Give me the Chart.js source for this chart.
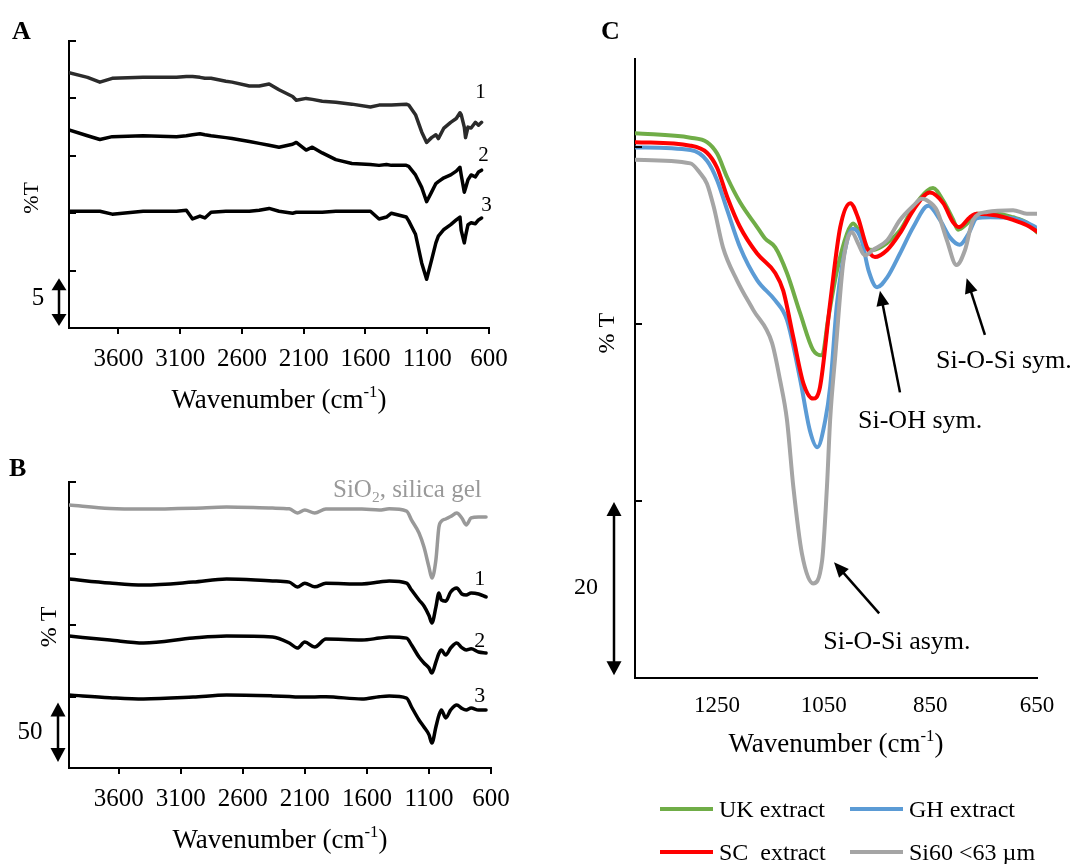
<!DOCTYPE html>
<html>
<head>
<meta charset="utf-8">
<title>FTIR spectra</title>
<script src="https://cdn.jsdelivr.net/npm/chart.js@4.4.1/dist/chart.umd.min.js"></script>
<style>
  body { margin: 0; background: #fff; }
  #page { position: relative; width: 1075px; height: 864px; overflow: hidden; font-family: "Liberation Serif", "Times New Roman", serif; color: #000; }
  #page canvas { position: absolute; }
  .panel { position: absolute; font-weight: bold; font-size: 26px; line-height: 26px; }
  .key { position: absolute; height: 4px; width: 53px; }
  .keyText { position: absolute; font-size: 24px; line-height: 24px; white-space: pre; }
</style>
</head>
<body>
<div id="page">
  <canvas id="chartA" width="540" height="430" style="left:0;top:0"></canvas>
  <canvas id="chartB" width="540" height="424" style="left:0;top:440px"></canvas>
  <canvas id="chartC" width="535" height="864" style="left:540px;top:0"></canvas>
  <div class="panel" style="left:12px;top:18px">A</div>
  <div class="panel" style="left:9px;top:455px">B</div>
  <div class="panel" style="left:601px;top:18px">C</div>
  <div id="legendC"></div>
</div>
<script>
// ---- panel A: wavenumber (cm-1) and %T of samples 1-3 ----
const aTicks = [3600, 3100, 2600, 2100, 1600, 1100, 600];
const aWave = [4000, 3850, 3750, 3650, 3400, 3130, 3050, 3000, 2940, 2900, 2850, 2730, 2680, 2540, 2460, 2380,
  2300, 2190, 2160, 2080, 2030, 1950, 1840, 1710, 1560, 1490, 1430, 1390, 1270, 1250, 1195, 1145,
  1105, 1065, 1030, 1010, 965, 910, 865, 835, 825, 800, 790, 770, 745, 710, 685, 660];
const aCurve1 = [26.7, 26.2, 25.7, 26.1, 26.2, 26.2, 26.3, 26.3, 26.2, 26.1, 26.1, 25.8, 25.7, 25.3, 25.3, 25.5,
  24.9, 24.2, 23.8, 24.0, 23.9, 23.7, 23.6, 23.4, 23.1, 23.3, 23.3, 23.3, 23.4, 23.3, 22.3, 20.5,
  19.4, 19.9, 20.2, 19.8, 20.9, 21.5, 21.9, 22.5, 22.3, 21.0, 19.9, 21.0, 20.9, 21.5, 21.2, 21.5];
const aCurve2 = [20.7, 20.1, 19.7, 20.0, 20.1, 20.0, 20.1, 20.2, 20.3, 20.2, 20.1, 19.9, 19.8, 19.5, 19.3, 19.1,
  18.9, 19.2, 19.4, 18.6, 18.9, 18.3, 17.6, 17.2, 17.1, 17.0, 17.1, 17.0, 17.0, 16.9, 16.0, 14.7,
  13.2, 14.2, 15.1, 15.3, 15.7, 16.0, 16.4, 16.8, 16.0, 14.2, 14.6, 15.5, 16.0, 15.8, 16.3, 16.5];
const aCurve3 = [12.2, 12.2, 12.2, 11.9, 12.2, 12.2, 12.3, 11.4, 11.7, 11.5, 12.1, 12.2, 12.2, 12.2, 12.3, 12.5,
  12.2, 12.0, 12.1, 12.1, 12.1, 12.1, 12.2, 12.2, 12.2, 11.4, 11.6, 12.0, 11.6, 11.2, 9.8, 6.8,
  5.1, 7.1, 8.9, 9.6, 10.3, 10.8, 11.3, 11.6, 10.2, 8.9, 9.6, 10.8, 11.0, 10.9, 11.3, 11.5];

// ---- panel B: silica gel reference and samples 1-3 ----
const bTicks = [3600, 3100, 2600, 2100, 1600, 1100, 600];
const bWave = [4000, 3670, 3400, 3000, 2730, 2360, 2225, 2160, 2100, 2020, 1930, 1640, 1500, 1420, 1280, 1240,
  1180, 1140, 1100, 1076, 1044, 1020, 1000, 965, 925, 876, 835, 800, 760, 700, 640];
const bSilica = [220.7, 217.8, 217.3, 218, 219, 218.1, 217.5, 214, 216.5, 214, 217.3, 217.3, 216.5, 217.5, 215.6, 208,
  197.2, 185.4, 168.6, 159.4, 174.5, 202, 207, 209, 211, 214, 209.8, 204, 209.8, 210.6, 210.6];
const bCurve1 = [158.6, 155.2, 153.5, 156, 158.6, 157, 156, 151.9, 155, 152, 155, 154.4, 156, 157, 155.2, 149.3,
  141, 136, 128, 121.7, 135, 146.8, 141, 140, 147.7, 151, 146, 145.1, 146.8, 146, 143.5];
const bCurve2 = [110.7, 107.4, 104.9, 109, 110.7, 110, 104.9, 100.7, 105.7, 101.5, 108.2, 107.4, 109, 110, 109, 103.2,
  93.1, 88.1, 84, 79.7, 88.9, 96, 99, 94.8, 100.7, 104.9, 101, 99, 100, 97.3, 96.5];
const bCurve3 = [61.2, 59, 57.9, 59.5, 61.2, 60.5, 60, 59.6, 59.6, 59.6, 59.8, 57.9, 59.8, 60.4, 58.7, 51.2,
  40.3, 34.4, 28, 21, 34.4, 44, 48.7, 42, 48.7, 52.9, 50, 48.7, 50.3, 48.7, 48.7];

// ---- panel C: extracts vs Si60 ----
const cTicks = [1250, 1050, 850, 650];
const ukWave = [1404, 1300, 1269, 1250, 1231, 1207, 1175, 1160, 1141, 1119, 1094, 1070, 1053, 1042, 1025, 1006, 995,
  982, 969, 958, 931, 907, 882, 856, 845, 826, 807, 798, 781, 763, 725, 695, 669, 650];
const ukT = [61.6, 61.1, 60.6, 59.3, 56.6, 53.8, 51.0, 49.7, 48.7, 45.8, 41.2, 37.1, 36.5, 40.5, 46.1, 50.3, 51.4,
  50.3, 48.6, 48.4, 49.2, 50.6, 53.2, 55.1, 55.4, 54.0, 51.8, 50.7, 51.4, 52.5, 52.5, 52.1, 51.5, 50.4];
const scWave = [1404, 1300, 1269, 1250, 1231, 1207, 1175, 1141, 1126, 1107, 1088, 1070, 1057, 1038, 1019, 1000,
  986, 969, 954, 931, 907, 882, 851, 826, 807, 796, 776, 763, 725, 695, 669, 650];
const scT = [60.6, 60.2, 59.4, 57.7, 54.4, 51.0, 48.0, 45.8, 43.8, 38.5, 33.3, 31.6, 32.9, 42.4, 51.0, 53.7,
  52.1, 48.7, 47.6, 48.4, 50.3, 52.9, 54.9, 53.7, 51.5, 51.0, 52.1, 52.5, 52.3, 51.8, 51.2, 50.5];
const ghWave = [1404, 1300, 1269, 1250, 1231, 1207, 1175, 1141, 1119, 1094, 1076, 1062, 1047, 1038, 1025, 1006,
  995, 979, 966, 950, 931, 907, 882, 854, 832, 813, 795, 778, 763, 738, 695, 669, 650];
const ghT = [60.0, 59.7, 58.5, 56.3, 52.9, 48.7, 45.0, 42.7, 40.5, 33.7, 28.0, 26.1, 29.2, 32.9, 42.4, 49.5,
  50.8, 49.5, 46.1, 44.2, 45.3, 48.0, 51.0, 53.4, 51.8, 49.8, 49.0, 50.3, 52.0, 52.1, 52.0, 51.5, 50.9];
const si60Wave = [1404, 1300, 1282, 1269, 1256, 1239, 1213, 1182, 1147, 1132, 1119, 1107, 1091, 1070, 1053, 1044,
  1038, 1028, 1013, 997, 986, 973, 958, 931, 907, 882, 866, 856, 838, 819, 801, 785, 770, 744, 695, 669, 650];
const si60T = [58.6, 58.2, 57.1, 55.9, 53.2, 48.7, 45.0, 41.6, 37.9, 33.7, 29.2, 21.6, 14.1, 10.7, 13.3, 21.6,
  29.2, 36.7, 47.2, 50.4, 49.2, 47.8, 48.4, 49.5, 51.8, 53.4, 54.2, 54.0, 52.9, 49.5, 46.7, 48.4, 51.8, 52.7, 52.9, 52.5, 52.5];

const FONT = '"Liberation Serif", "Times New Roman", serif';
Chart.defaults.font.family = FONT;
Chart.defaults.color = '#000';

function series(label, wave, values, color, width, smooth, order) {
  return {
    label: label,
    data: wave.map((w, i) => ({ x: w, y: values[i] })),
    borderColor: color,
    borderWidth: width,
    pointRadius: 0,
    fill: false,
    tension: 0,
    cubicInterpolationMode: smooth ? 'monotone' : 'default',
    borderJoinStyle: 'round',
    borderCapStyle: 'round',
    order: order || 0
  };
}

function xAxis(min, max, ticks, size, pad, marks, height) {
  return {
    type: 'linear', reverse: true, min: min, max: max,
    afterBuildTicks: s => { s.ticks = ticks.map(v => ({ value: v })); },
    afterFit: s => { s.height = height; },
    grid: { display: true, drawOnChartArea: false, drawTicks: marks, tickLength: marks ? 6 : 0, color: '#000', lineWidth: 2 },
    border: { display: true, color: '#000', width: 2 },
    ticks: { font: { size: size }, padding: pad, color: '#000', maxRotation: 0, autoSkip: false, callback: v => String(v) }
  };
}

function yAxis(min, max, width) {
  return {
    type: 'linear', min: min, max: max,
    afterFit: s => { s.width = width; },
    grid: { display: false },
    border: { display: true, color: '#000', width: 2 },
    ticks: { display: false }
  };
}

function fontOf(size) { return size + 'px ' + FONT; }

function drawRich(ctx, parts, x, y, align, size, color) {
  const widths = parts.map(p => { ctx.font = fontOf((p.sub || p.sup) ? size * 0.62 : size); return ctx.measureText(p.t).width; });
  const total = widths.reduce((s, w) => s + w, 0);
  let cx = align === 'right' ? x - total : align === 'center' ? x - total / 2 : x;
  ctx.fillStyle = color || '#000';
  ctx.textAlign = 'left';
  ctx.textBaseline = 'alphabetic';
  parts.forEach((p, i) => {
    ctx.font = fontOf((p.sub || p.sup) ? size * 0.62 : size);
    const dy = p.sub ? size * 0.2 : p.sup ? -size * 0.4 : 0;
    ctx.fillText(p.t, cx, y + dy);
    cx += widths[i];
  });
}

function arrowHead(ctx, tipX, tipY, fromX, fromY, len, width) {
  const ang = Math.atan2(tipY - fromY, tipX - fromX);
  const ux = Math.cos(ang), uy = Math.sin(ang);
  const bx = tipX - ux * len, by = tipY - uy * len;
  ctx.beginPath();
  ctx.moveTo(tipX, tipY);
  ctx.lineTo(bx - uy * width / 2, by + ux * width / 2);
  ctx.lineTo(bx + uy * width / 2, by - ux * width / 2);
  ctx.closePath();
  ctx.fill();
}

function drawArrow(ctx, x1, y1, x2, y2, len, width, lw, both) {
  const ang = Math.atan2(y2 - y1, x2 - x1);
  const ux = Math.cos(ang), uy = Math.sin(ang);
  ctx.lineWidth = lw;
  ctx.beginPath();
  ctx.moveTo(both ? x1 + ux * len * 0.8 : x1, both ? y1 + uy * len * 0.8 : y1);
  ctx.lineTo(x2 - ux * len * 0.8, y2 - uy * len * 0.8);
  ctx.stroke();
  arrowHead(ctx, x2, y2, x1, y1, len, width);
  if (both) arrowHead(ctx, x1, y1, x2, y2, len, width);
}

// draws inside tick marks, scale bar, axis titles, labels and arrows
function decor(cfg) {
  return {
    id: 'decor',
    afterDraw(chart) {
      const ctx = chart.ctx, xs = chart.scales.x, ys = chart.scales.y, a = chart.chartArea;
      ctx.save();
      ctx.fillStyle = '#000';
      ctx.strokeStyle = '#000';
      ctx.lineWidth = 2;
      cfg.yTicks.forEach(v => {
        const y = Math.round(ys.getPixelForValue(v));
        ctx.beginPath(); ctx.moveTo(a.left, y); ctx.lineTo(a.left + 7, y); ctx.stroke();
      });

      const b = cfg.bar;
      const bx = a.left - b.dx;
      drawArrow(ctx, bx, ys.getPixelForValue(b.from), bx, ys.getPixelForValue(b.from + b.span), b.head, 15, 2.5, true);
      ctx.font = fontOf(b.size);
      ctx.textAlign = 'center';
      ctx.textBaseline = 'middle';
      ctx.fillText(b.label, a.left - b.labelDx, ys.getPixelForValue(b.labelV));

      // y title, rotated
      ctx.save();
      ctx.translate(a.left - cfg.yTitle.dx, ys.getPixelForValue(cfg.yTitle.v));
      ctx.rotate(-Math.PI / 2);
      ctx.font = fontOf(cfg.yTitle.size);
      ctx.textAlign = 'center';
      ctx.textBaseline = 'middle';
      ctx.fillText(cfg.yTitle.text, 0, 0);
      ctx.restore();

      // x title with superscript
      drawRich(ctx, [{ t: 'Wavenumber (cm' }, { t: '-1', sup: true }, { t: ')' }],
        (a.left + a.right) / 2, a.bottom + cfg.xTitleDy, 'center', 27, '#000');

      (cfg.notes || []).forEach(n => {
        drawRich(ctx, n.parts, xs.getPixelForValue(n.wn), ys.getPixelForValue(n.v), n.align, n.size, n.color);
      });

      ctx.fillStyle = '#000';
      (cfg.arrows || []).forEach(ar => {
        drawArrow(ctx, xs.getPixelForValue(ar.from[0]), ys.getPixelForValue(ar.from[1]),
          xs.getPixelForValue(ar.to[0]), ys.getPixelForValue(ar.to[1]), 15, 13, 2.5, false);
      });
      ctx.restore();
    }
  };
}

const baseOptions = {
  responsive: false,
  animation: false,
  events: [],
  plugins: { legend: { display: false }, tooltip: { enabled: false } }
};

new Chart(document.getElementById('chartA'), {
  type: 'line',
  data: {
    datasets: [
      series('1', aWave, aCurve1, '#2b2b2b', 3.5, false),
      series('2', aWave, aCurve2, '#000000', 3.5, false),
      series('3', aWave, aCurve3, '#000000', 3.5, false)
    ]
  },
  options: Object.assign({}, baseOptions, {
    layout: { padding: { top: 41, right: 51, left: 0, bottom: 0 } },
    scales: { x: xAxis(600, 4000, aTicks, 25, 10, true, 102), y: yAxis(0, 30, 69) }
  }),
  plugins: [decor({
    yTicks: [6, 12, 18, 24, 30],
    bar: { from: 0.2, span: 5, dx: 10, head: 12, label: '5', labelDx: 31, labelV: 3.1, size: 25 },
    yTitle: { text: '%T', dx: 37, v: 13.6, size: 22 },
    xTitleDy: 80,
    notes: [
      { wn: 669, v: 24.0, parts: [{ t: '1' }], align: 'center', size: 21 },
      { wn: 645, v: 17.5, parts: [{ t: '2' }], align: 'center', size: 21 },
      { wn: 621, v: 12.2, parts: [{ t: '3' }], align: 'center', size: 21 }
    ]
  })]
});

new Chart(document.getElementById('chartB'), {
  type: 'line',
  data: {
    datasets: [
      series('SiO2, silica gel', bWave, bSilica, '#999999', 3.5, true),
      series('1', bWave, bCurve1, '#000000', 3.5, true),
      series('2', bWave, bCurve2, '#000000', 3.5, true),
      series('3', bWave, bCurve3, '#000000', 3.5, true)
    ]
  },
  options: Object.assign({}, baseOptions, {
    layout: { padding: { top: 42, right: 49, left: 0, bottom: 0 } },
    scales: { x: xAxis(600, 4000, bTicks, 25, 10, true, 96), y: yAxis(0, 240, 69) }
  }),
  plugins: [decor({
    yTicks: [60, 120, 180, 240],
    bar: { from: 5, span: 50, dx: 11, head: 14, label: '50', labelDx: 39, labelV: 30.2, size: 25 },
    yTitle: { text: '% T', dx: 19, v: 118.3, size: 24 },
    xTitleDy: 80,
    notes: [
      { wn: 675, v: 227.4, parts: [{ t: 'SiO' }, { t: '2', sub: true }, { t: ', silica gel' }], align: 'right', size: 25, color: '#999999' },
      { wn: 691, v: 153.5, parts: [{ t: '1' }], align: 'center', size: 22 },
      { wn: 691, v: 101.5, parts: [{ t: '2' }], align: 'center', size: 22 },
      { wn: 691, v: 55.4, parts: [{ t: '3' }], align: 'center', size: 22 }
    ]
  })]
});

const cSeries = [
  { label: 'UK extract', wave: ukWave, values: ukT, color: '#70AD47', order: 3 },
  { label: 'GH extract', wave: ghWave, values: ghT, color: '#5B9BD5', order: 2 },
  { label: 'SC  extract', wave: scWave, values: scT, color: '#FF0000', order: 1 },
  { label: 'Si60 <63 \u00b5m', wave: si60Wave, values: si60T, color: '#A5A5A5', order: 0 }
];

new Chart(document.getElementById('chartC'), {
  type: 'line',
  data: { datasets: cSeries.map(s => series(s.label, s.wave, s.values, s.color, 4, true, s.order)) },
  options: Object.assign({}, baseOptions, {
    layout: { padding: { top: 59, right: 38, left: 0, bottom: 0 } },
    scales: { x: xAxis(650, 1404, cTicks, 23, 14, false, 186), y: yAxis(0, 70, 95) }
  }),
  plugins: [decor({
    yTicks: [20, 40, 60],
    bar: { from: 0.3, span: 19.6, dx: 21, head: 14, label: '20', labelDx: 49, labelV: 10.2, size: 24 },
    yTitle: { text: '% T', dx: 27, v: 39, size: 24 },
    xTitleDy: 74,
    notes: [
      { wn: 839.5, v: 35.1, parts: [{ t: 'Si-O-Si sym.' }], align: 'left', size: 26 },
      { wn: 985.7, v: 28.3, parts: [{ t: 'Si-OH sym.' }], align: 'left', size: 26 },
      { wn: 1051, v: 3.3, parts: [{ t: 'Si-O-Si asym.' }], align: 'left', size: 26 }
    ],
    arrows: [
      { from: [907, 32.3], to: [944.5, 43.8] },
      { from: [747.7, 38.8], to: [782, 45.2] },
      { from: [946, 7.3], to: [1030.7, 13.1] }
    ]
  })]
});

// legend of panel C, two columns
const legendSlots = [[660, 807], [850, 807], [660, 850], [850, 850]];
const legendOrder = [0, 1, 2, 3];
const legendBox = document.getElementById('legendC');
legendOrder.forEach((idx, k) => {
  const s = cSeries[idx];
  const [lx, ly] = legendSlots[k];
  const line = document.createElement('div');
  line.className = 'key';
  line.style.left = lx + 'px';
  line.style.top = ly + 'px';
  line.style.background = s.color;
  const txt = document.createElement('div');
  txt.className = 'keyText';
  txt.style.left = (lx + 59) + 'px';
  txt.style.top = (ly - 10) + 'px';
  txt.textContent = s.label;
  legendBox.appendChild(line);
  legendBox.appendChild(txt);
});
</script>
</body>
</html>
